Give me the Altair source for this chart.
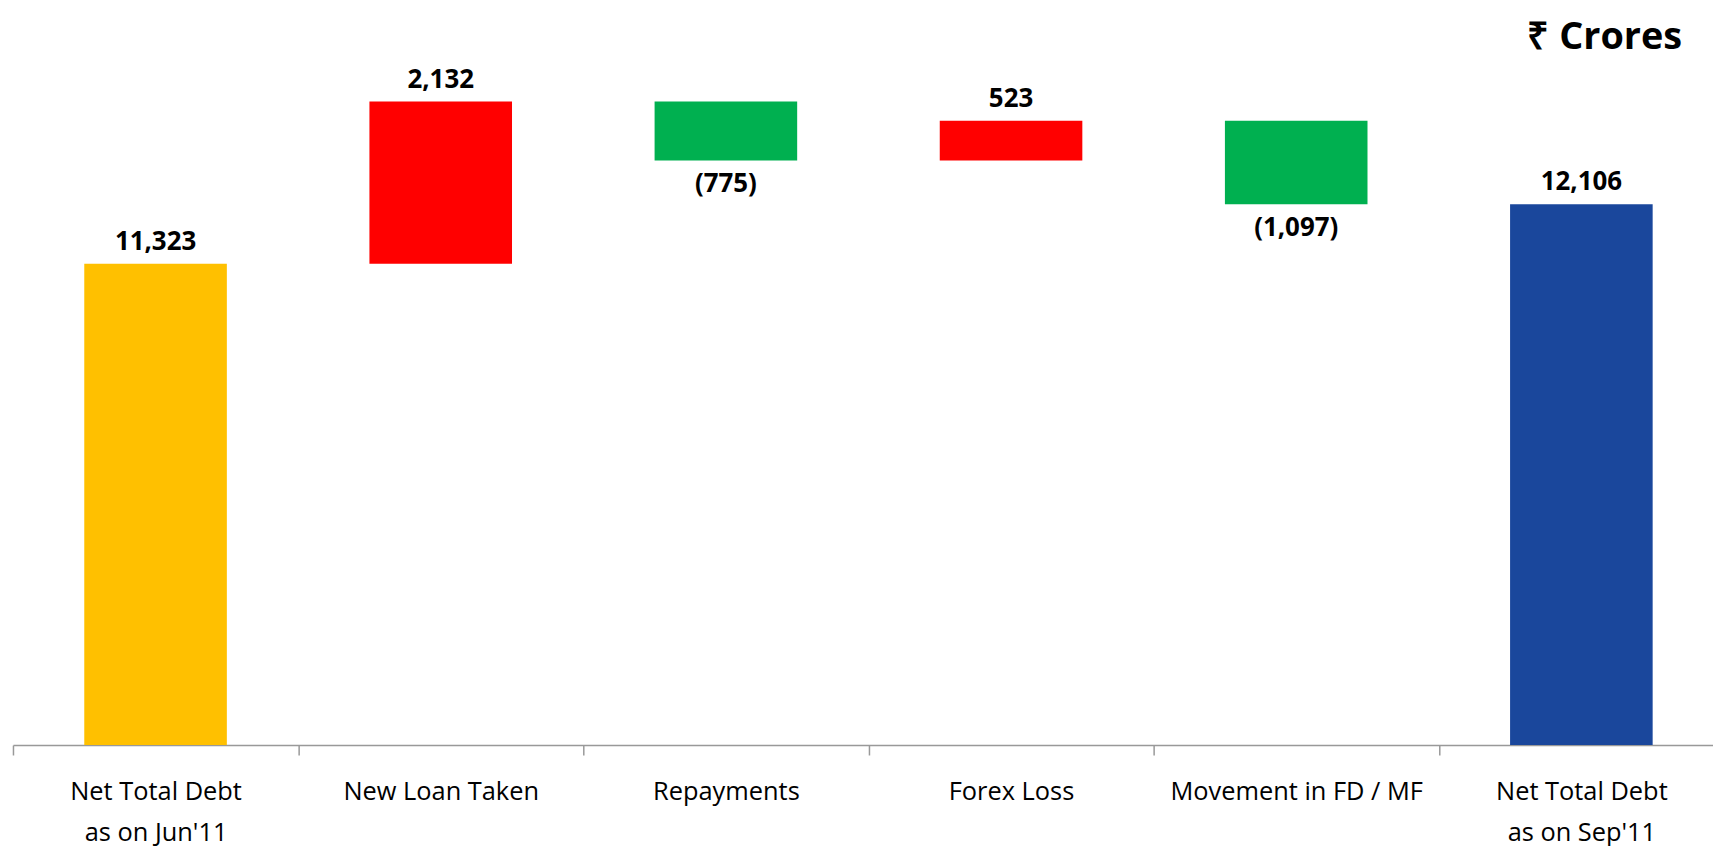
import json
import altair as alt
import pandas as pd

# ---- data ----
categories = [
    "Net Total Debt\nas on Jun'11",
    "New Loan Taken",
    "Repayments",
    "Forex Loss",
    "Movement in FD / MF",
    "Net Total Debt\nas on Sep'11",
]
values = [11323, 2132, -775, 523, -1097, 12106]
kinds = ["total", "delta", "delta", "delta", "delta", "total"]
bar_colors = ["#FFC000", "#FF0000", "#00B050", "#FF0000", "#00B050", "#1A479C"]
unit_label = ["₹ Crores"]
Y_MIN, Y_MAX = 5000, 14500

# ---- layout (plot area) ----
PLOT_W = 1708
STEP_PX = 286.5            # width of one category slot in the reference
X_MAX = PLOT_W / STEP_PX    # the last slot runs past the page edge, as in the reference
BAR_FRAC = 0.5

# ---- waterfall geometry derived from the values ----
rows = []
running = 0
for i, (cat, v, k) in enumerate(zip(categories, values, kinds)):
    if k == "total":
        lo, hi = Y_MIN, v
        running = v
    else:
        start = running
        running = running + v
        lo, hi = min(start, running), max(start, running)
    label = f"{v:,}" if v >= 0 else f"({abs(v):,})"
    rows.append({
        "cat": cat, "value": v, "lo": lo, "hi": hi, "label": label,
        "sign": "pos" if v >= 0 else "neg",
        "c": i + 0.5,
        "x0": i + 0.5 - BAR_FRAC / 2,
        "x1": i + 0.5 + BAR_FRAC / 2,
    })
df = pd.DataFrame(rows)

# axis: ticks on slot boundaries, labels on slot centres
axis_values = []
for i in range(len(categories)):
    axis_values += [float(i), i + 0.5]
names_js = json.dumps(categories)

FONT = "Open Sans"

x_scale = alt.Scale(domain=[0, X_MAX], nice=False, zero=False)
x_axis = alt.Axis(
    title=None,
    values=axis_values,
    labelExpr=f"datum.value % 1 == 0 ? '' : split({names_js}[floor(datum.value)], '\\n')",
    labelFont=FONT,
    labelFontSize=25.5,
    labelColor="#000000",
    labelLineHeight=41.5,
    labelPadding=24.5,
    labelAngle=0,
    labelLimit=0,
    labelFlush=False,
    labelOverlap=False,
    labelBound=False,
    tickSize=10,
    tickColor="#999999",
    tickWidth=1.5,
    tickOpacity={"condition": {"test": "datum.value % 1 != 0", "value": 0}, "value": 1},
    domainColor="#999999",
    domainWidth=1.5,
    grid=False,
)
y_scale = alt.Scale(domain=[Y_MIN, Y_MAX], nice=False, zero=False)

base = alt.Chart(df)

bars = base.mark_bar(clip=True).encode(
    x=alt.X("x0:Q", scale=x_scale, axis=x_axis),
    x2="x1:Q",
    y=alt.Y("lo:Q", scale=y_scale, axis=None),
    y2="hi:Q",
    color=alt.Color("cat:N", scale=alt.Scale(domain=categories, range=bar_colors), legend=None),
)

text_style = dict(font=FONT, fontSize=26, fontWeight="bold", color="#000000",
                  align="center", baseline="alphabetic")

labels_up = base.transform_filter("datum.sign == 'pos'").mark_text(dy=-14, **text_style).encode(
    x=alt.X("c:Q", scale=x_scale),
    y=alt.Y("hi:Q", scale=y_scale),
    text="label:N",
)
labels_down = base.transform_filter("datum.sign == 'neg'").mark_text(dy=32, **text_style).encode(
    x=alt.X("c:Q", scale=x_scale),
    y=alt.Y("lo:Q", scale=y_scale),
    text="label:N",
)

unit = alt.Chart(pd.DataFrame({"t": unit_label})).mark_text(
    font=FONT, fontSize=38, fontWeight="bold", color="#000000", align="right", baseline="alphabetic"
).encode(text="t:N", x=alt.value(1677), y=alt.value(27.5))

chart = alt.layer(bars, labels_up, labels_down, unit).properties(
    width=PLOT_W,
    height=726.5,
    padding={"left": 5, "top": 12, "right": 0, "bottom": 110},
    autosize=alt.AutoSizeParams(type="none"),
    background="#ffffff",
).configure_view(stroke=None)

chart.save("out.html", embed_options={"renderer": "svg", "actions": False})
